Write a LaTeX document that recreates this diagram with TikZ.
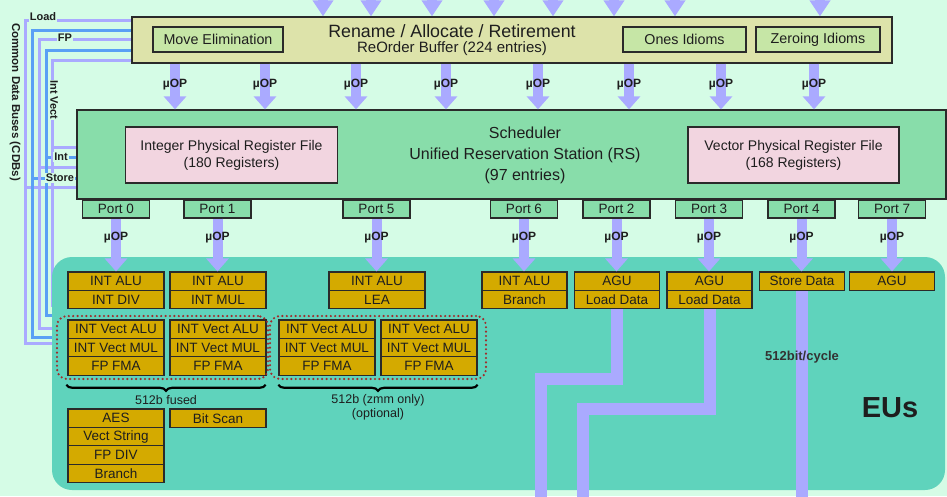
\documentclass[tikz,border=0pt]{standalone}
\usepackage{fontspec}
\setmainfont{Liberation Sans}
\usetikzlibrary{arrows.meta,decorations.pathreplacing,calc}
\pgfdeclarelayer{under}
\pgfsetlayers{under,main}

\definecolor{bg}{HTML}{D5FCE6}
\definecolor{robfill}{HTML}{DDE3AA}
\definecolor{idiomfill}{HTML}{C6E6A6}
\definecolor{schedfill}{HTML}{88DDAA}
\definecolor{prffill}{HTML}{F2D5E0}
\definecolor{eufill}{HTML}{5FD3BC}
\definecolor{unitfill}{HTML}{D4AA00}
\definecolor{flow}{HTML}{AAAAFF}
\definecolor{busblue}{HTML}{5AA0F5}
\definecolor{grp}{HTML}{A02C2C}
\definecolor{ink}{HTML}{1E1E1E}
\definecolor{edge}{HTML}{2A2A2A}

\newcommand\fs[2]{\fontsize{#1}{#2}\selectfont}

\tikzset{
  frame/.style={draw=edge, line width=1.3pt, inner sep=0pt},
  robbox/.style={frame, fill=robfill},
  idiom/.style={frame, fill=idiomfill, minimum height=25pt, font=\fs{14.3}{16}},
  schedbox/.style={frame, fill=schedfill},
  prf/.style={frame, fill=prffill, minimum width=212pt, minimum height=56pt, align=center, font=\fs{14}{17}},
  port/.style={frame, fill=schedfill, minimum width=67pt, minimum height=18pt, font=\fs{13.5}{14}},
  unitbox/.style={frame, line width=1.2pt, fill=unitfill, minimum height=18.4pt, font=\fs{13.5}{14}},
  wideunit/.style={unitbox, minimum width=96pt},
  slimunit/.style={unitbox, minimum width=85pt},
  flowarrow/.style={draw=flow, line width=10pt, -{Triangle[width=22pt,length=13pt]}},
  feedarrow/.style={draw=flow, line width=10pt, -{Triangle[width=20pt,length=16pt]}},
  flowline/.style={draw=flow, line width=12pt},
  uoplabel/.style={font=\bfseries\fs{12}{13}, inner sep=0pt},
  bus/.style={line width=3pt},
  buslabel/.style={font=\bfseries\fs{11}{12}, fill=bg, inner sep=0.8pt},
  fusegroup/.style={draw=grp, line width=2.4pt, dash pattern=on 0pt off 4.4pt, line cap=round, rounded corners=10pt, minimum height=63pt},
  spanbrace/.style={decorate, decoration={brace, mirror, amplitude=6pt}, line width=2.2pt, draw=black},
  note/.style={font=\fs{12.5}{14}, inner sep=0pt, align=center},
}

\begin{document}
\begin{tikzpicture}[x=1pt, y=-1pt, every node/.style={text=ink}]
\useasboundingbox (0,0) rectangle (947,496);
\begin{pgfonlayer}{under}
  \fill[bg] (0,0) rectangle (947,496);
\end{pgfonlayer}

% Rename / allocate / retirement stage
\node[robbox, minimum width=760pt, minimum height=46pt] (rob) at (512,40) {};
\node[font=\fs{17.8}{20}, inner sep=0pt] (robtitle) at (452,31) {Rename / Allocate / Retirement};
\node[font=\fs{15}{17}, inner sep=0pt] (robsub) at (452,49) {ReOrder Buffer (224 entries)};
\node[idiom, minimum width=130pt] (mov) at (218,39.5) {Move Elimination};
\node[idiom, minimum width=123pt] (ones) at (684.5,39.5) {Ones Idioms};
\node[idiom, minimum width=124pt] (zero) at (818,39.5) {Zeroing Idioms};

% Scheduler
\node[schedbox, minimum width=869pt, minimum height=89pt] (rs) at (511.5,154.5) {};
\node[font=\fs{16}{21}, align=center, inner sep=0pt] (rstext) at (525,155)
  {Scheduler\\Unified Reservation Station (RS)\\(97 entries)};
\node[prf] (iprf) at (231.5,155) {Integer Physical Register File\\(180 Registers)};
\node[prf, minimum width=211pt] (vprf) at (793.5,155) {Vector Physical Register File\\(168 Registers)};

% Issue ports
\foreach \n/\x in {0/116,1/217.5,5/376.5,6/524,2/616.5,3/709,4/801.5,7/892}
  \node[port] (p\n) at (\x,209) {Port \n};

% Execution units area
\node[fill=eufill, rounded corners=20pt, minimum width=893pt, minimum height=233pt, inner sep=0pt] (eu) at (498.5,373.5) {};
\node[font=\bfseries\fs{29}{30}, inner sep=0pt] (eutitle) at (890,408) {EUs};

% Scalar units behind each port
\node[wideunit] (a1) at (116,281.2) {INT ALU};
\node[wideunit] (a2) at (116,299.6) {INT DIV};
\node[wideunit] (b1) at (218,281.2) {INT ALU};
\node[wideunit] (b2) at (218,299.6) {INT MUL};
\node[wideunit] (c1) at (377,281.2) {INT ALU};
\node[wideunit] (c2) at (377,299.6) {LEA};
\node[slimunit] (d1) at (524.5,281.2) {INT ALU};
\node[slimunit] (d2) at (524.5,299.6) {Branch};
\node[slimunit] (e1) at (617,281.2) {AGU};
\node[slimunit] (e2) at (617,299.6) {Load Data};
\node[slimunit] (f1) at (709.5,281.2) {AGU};
\node[slimunit] (f2) at (709.5,299.6) {Load Data};
\node[slimunit] (g1) at (802,281.2) {Store Data};
\node[slimunit] (h1) at (892,281.2) {AGU};

% Vector units
\foreach \s/\x in {va/116, vb/218, vc/327, vd/429} {
  \node[wideunit] (\s1) at (\x,329.2) {INT Vect ALU};
  \node[wideunit] (\s2) at (\x,347.6) {INT Vect MUL};
  \node[wideunit] (\s3) at (\x,366) {FP FMA};
}

% Port 0 / port 1 extra units
\node[wideunit] (aes) at (116,418.2) {AES};
\node[wideunit] (vstr) at (116,436.6) {Vect String};
\node[wideunit] (fdiv) at (116,455) {FP DIV};
\node[wideunit] (br2) at (116,473.4) {Branch};
\node[wideunit] (bscan) at (218,418.2) {Bit Scan};

% 512-bit groupings
\node[fusegroup, minimum width=211pt] (grpA) at (162.5,347.5) {};
\node[fusegroup, minimum width=216pt] (grpB) at (378,347.5) {};
\draw[spanbrace] ($(va3.south west)+(-1,9)$) -- ($(vb3.south east)+(-1,9)$);
\draw[spanbrace] ($(vc3.south west)+(0,9)$) -- ($(vd3.south east)+(0,9)$);
\node[note] (fusedA) at (166,400) {512b fused};
\node[note] (fusedB) at (378,407) {512b (zmm only)\\(optional)};

% Incoming micro-ops from the front end
\foreach \x in {323,371,432,494,553,614,675,820} {
  \coordinate (top\x) at (\x,0);
  \draw[feedarrow] (top\x) -- (top\x |- rob.north);
}

% ROB -> scheduler
\foreach \x [count=\i] in {175,265,356,446,538,629,721,814} {
  \coordinate (u\i) at (\x,85);
  \draw[flowarrow] (u\i |- rob.south) -- (u\i |- rs.north);
  \node[uoplabel] at (u\i) {µOP};
}

% Ports -> execution units
\foreach \p/\u in {0/a1,1/b1,5/c1,6/d1,2/e1,3/f1,4/g1,7/h1} {
  \draw[flowarrow] (p\p.south) -- (p\p.south |- \u.north);
  \node[uoplabel] at ($(p\p.south)!0.35!(p\p.south |- \u.north)$) {µOP};
}

% Load / store data paths
\coordinate (ld2) at (541,505);
\coordinate (ld3) at (583,505);
\coordinate (st4) at (802,505);
\draw[flowline] (e2.south) -- ++(0,70) -| (ld2);
\draw[flowline] (f2.south) -- ++(0,100) -| (ld3);
\draw[flowline] (g1.south) -- (st4);
\node[font=\bfseries\fs{13}{14}, text=black!80, inner sep=0pt] (bw) at (802,357) {512bit/cycle};

% Common data buses
\begin{pgfonlayer}{under}
\foreach \x/\t/\b/\s/\c [count=\i] in {25/20/343/187/flow, 32/30/337/178/busblue, 39/39/328/167/flow, 46/50/315/157/busblue, 52/60/305/147/flow} {
  \coordinate (bt\i) at (\x,\t);
  \coordinate (bb\i) at (\x,\b);
  \coordinate (bs\i) at (\x,\s);
  \draw[bus, draw=\c] (rob.west |- bt\i) -- (bt\i) -- (bb\i) -- (bb\i -| a1.center);
  \draw[bus, draw=\c] (bs\i) -- (rs.west |- bs\i);
}
\end{pgfonlayer}
\node[buslabel] (lbLoad) at (43,17) {Load};
\node[buslabel] (lbFP) at (65,38) {FP};
\node[buslabel, rotate=-90] (lbVect) at (54,100) {Int Vect};
\node[buslabel] (lbInt) at (61,157) {Int};
\node[buslabel] (lbStore) at (60,178) {Store};
\node[font=\bfseries\fs{11.5}{12}, rotate=-90, inner sep=0pt] (cdb) at (15,102) {Common Data Buses (CDBs)};
\end{tikzpicture}
\end{document}
